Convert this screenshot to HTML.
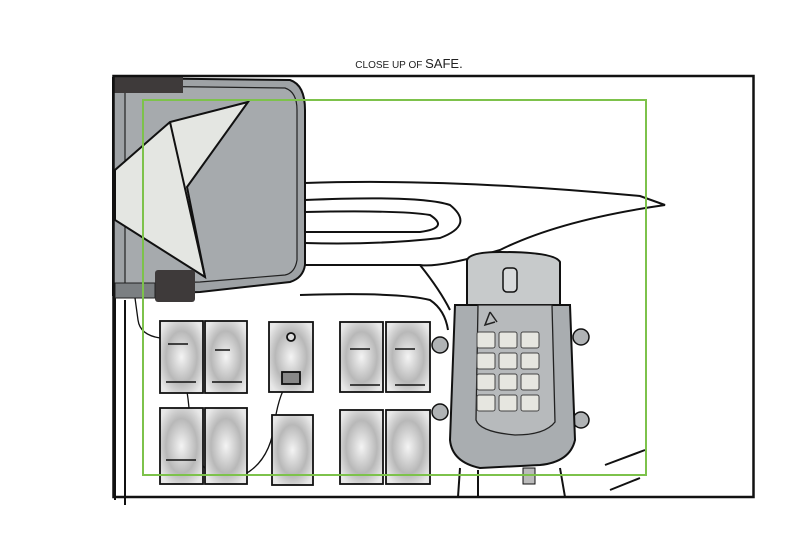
<!DOCTYPE html>
<html><head><style>body{margin:0;background:#fff}svg{display:block}</style></head><body>
<svg width="796" height="547" viewBox="0 0 796 547" xmlns="http://www.w3.org/2000/svg">
<defs>
<radialGradient id="sw" cx="50%" cy="50%" r="60%"><stop offset="0" stop-color="#f4f4f4"/><stop offset="0.6" stop-color="#b8b8b8"/><stop offset="1" stop-color="#e8e8e8"/></radialGradient>
</defs>
<text x="409" y="68" font-family="Liberation Sans, sans-serif" font-size="10" text-anchor="middle" fill="#222">CLOSE UP OF <tspan font-size="13">SAFE.</tspan></text>
<!-- dashboard lines -->
<g fill="none" stroke="#111" stroke-width="2">
<path d="M305 183 Q450 178 640 196 L665 205 Q560 220 500 250 Q440 268 420 265 L300 265"/>
<path d="M305 200 Q420 195 450 205 Q475 225 440 238 Q380 245 305 243"/>
<path d="M305 212 Q400 210 430 215 Q450 228 420 232 L305 232"/>
<path d="M420 265 Q440 290 450 310"/>
<path d="M300 295 Q400 292 430 300 Q445 310 448 330"/>
<path d="M605 465 L645 450 M610 490 L640 478"/>
<path d="M460 468 L458 497 M478 470 L478 497 M560 468 L565 497"/>
<path d="M115 280 L115 500 M125 300 L125 505"/>
</g>
<!-- monitor -->
<path d="M113 78 L290 80 Q305 85 305 110 L305 265 Q303 278 290 282 L200 292 L113 295 Z" fill="#9ea2a5" stroke="#111" stroke-width="2"/>
<path d="M125 86 L285 88 Q297 92 297 110 L297 260 Q295 273 285 275 L200 282 L125 284 Z" fill="#a6aaad" stroke="#222" stroke-width="1.2"/>
<rect x="113" y="75" width="70" height="18" fill="#3e3a3a"/>
<polygon points="248,102 170,122 115,170 115,220 205,277 187,187" fill="#e4e6e2" stroke="#111" stroke-width="2"/>
<path d="M170 122 L205 277" fill="none" stroke="#111" stroke-width="2"/>
<rect x="155" y="270" width="40" height="32" rx="3" fill="#3e3a3a"/>
<rect x="115" y="283" width="40" height="15" fill="#7b7f82" stroke="#222"/>
<path d="M135 298 L138 320 Q140 335 160 338 Q185 345 190 420 Q195 480 230 480 Q270 470 275 420 Q280 390 290 380" fill="none" stroke="#111" stroke-width="1.3"/>
<!-- switches -->
<g stroke="#111" stroke-width="1.8">
<rect x="160" y="321" width="43" height="72" fill="url(#sw)"/><rect x="205" y="321" width="42" height="72" fill="url(#sw)"/>
<rect x="160" y="408" width="43" height="76" fill="url(#sw)"/><rect x="205" y="408" width="42" height="76" fill="url(#sw)"/>
<rect x="269" y="322" width="44" height="70" fill="url(#sw)"/>
<rect x="272" y="415" width="41" height="70" fill="url(#sw)"/>
<rect x="340" y="322" width="43" height="70" fill="url(#sw)"/><rect x="386" y="322" width="44" height="70" fill="url(#sw)"/>
<rect x="340" y="410" width="43" height="74" fill="url(#sw)"/><rect x="386" y="410" width="44" height="74" fill="url(#sw)"/>
<rect x="282" y="372" width="18" height="12" fill="#888"/>
<circle cx="291" cy="337" r="4" fill="#ddd"/>
</g>
<g stroke="#111" stroke-width="1.5"><path d="M168 344h20M215 350h15M166 382h30M212 382h30M166 460h30M350 349h20M395 349h20M350 385h30M395 385h30"/></g>
<!-- safe -->
<path d="M467 260 Q470 252 500 252 Q555 252 560 262 L560 310 L467 310 Z" fill="#c7cacb" stroke="#111" stroke-width="2"/>
<rect x="503" y="268" width="14" height="24" rx="4" fill="#d8dadb" stroke="#111" stroke-width="1.5"/>
<circle cx="440" cy="345" r="8" fill="#b0b3b5" stroke="#111" stroke-width="1.5"/><circle cx="440" cy="412" r="8" fill="#b0b3b5" stroke="#111" stroke-width="1.5"/>
<circle cx="581" cy="337" r="8" fill="#b0b3b5" stroke="#111" stroke-width="1.5"/><circle cx="581" cy="420" r="8" fill="#b0b3b5" stroke="#111" stroke-width="1.5"/>
<path d="M455 305 L570 305 L575 440 Q570 462 540 465 L480 468 Q452 462 450 440 Z" fill="#a9adb0" stroke="#111" stroke-width="2"/>
<path d="M478 305 L552 305 L555 422 Q545 435 515 435 Q480 432 476 420 Z" fill="#b7babc" stroke="#222" stroke-width="1.3"/>
<path d="M490 312 L485 325 L495 322 M490 312 L497 322" fill="none" stroke="#222" stroke-width="1.5"/>
<g fill="#e6e6e0" stroke="#444" stroke-width="1">
<rect x="477" y="332" width="18" height="16" rx="2"/><rect x="499" y="332" width="18" height="16" rx="2"/><rect x="521" y="332" width="18" height="16" rx="2"/>
<rect x="477" y="353" width="18" height="16" rx="2"/><rect x="499" y="353" width="18" height="16" rx="2"/><rect x="521" y="353" width="18" height="16" rx="2"/>
<rect x="477" y="374" width="18" height="16" rx="2"/><rect x="499" y="374" width="18" height="16" rx="2"/><rect x="521" y="374" width="18" height="16" rx="2"/>
<rect x="477" y="395" width="18" height="16" rx="2"/><rect x="499" y="395" width="18" height="16" rx="2"/><rect x="521" y="395" width="18" height="16" rx="2"/>
</g>
<rect x="523" y="468" width="12" height="16" fill="#bbb" stroke="#111"/>
<!-- frame -->
<rect x="113.5" y="76" width="640" height="421" fill="none" stroke="#111" stroke-width="2.5"/>
<rect x="143" y="100" width="503" height="375" fill="none" stroke="#7dc24b" stroke-width="2"/>
</svg>
</body></html>
